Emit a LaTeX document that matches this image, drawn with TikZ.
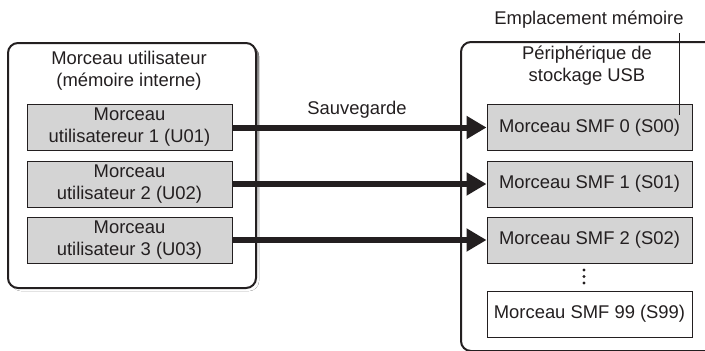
\documentclass[tikz,border=0pt]{standalone}
\usepackage{fontspec}
\setmainfont{Liberation Sans}
\usetikzlibrary{arrows.meta}
\definecolor{ink}{HTML}{231F20}
\definecolor{boxfill}{HTML}{D4D4D4}
\definecolor{shade}{HTML}{B4B4B4}
\begin{document}
\begin{tikzpicture}[x=1pt,y=-1pt,
  txt/.style={font=\fontsize{18.4}{22}\selectfont, text=ink, align=center, inner sep=1pt},
  container/.style={draw=ink, line width=2pt, rounded corners=10pt},
  songbox/.style={txt, draw=ink, line width=1pt, fill=boxfill,
                  minimum width=205pt, minimum height=46pt},
  emptybox/.style={songbox, fill=white},
  saveline/.style={draw=ink, line width=6pt, -{Triangle[length=20pt,width=22pt]}},
  leader/.style={draw=ink, line width=0.9pt}]
\useasboundingbox (0,0) rectangle (705,351);
\clip (0,0) rectangle (705,351);

% internal memory container with its drop shadow
\fill[shade, rounded corners=10pt] (11,46) rectangle (259,291);
\draw[container, fill=white] (8,43) rectangle (256,288);
\node[txt] (inttitle) at (129,71) {Morceau utilisateur\\(mémoire interne)};

% USB storage container, running past the right and bottom edges
\draw[container, fill=white] (461,42) rectangle (720,351);
\node[txt] (usbtitle) at (587,66) {Périphérique de\\stockage USB};

% user songs
\node[songbox] (u1) at (129.5,127.5) {Morceau\\utilisatereur 1 (U01)};
\node[songbox] (u2) at (129.5,184)   {Morceau\\utilisateur 2 (U02)};
\node[songbox] (u3) at (129.5,240)   {Morceau\\utilisateur 3 (U03)};

% SMF slots on the USB device
\node[songbox]  (s0)  at (589.5,127.5) {Morceau SMF 0 (S00)};
\node[songbox]  (s1)  at (589.5,184)   {Morceau SMF 1 (S01)};
\node[songbox]  (s2)  at (589.5,240)   {Morceau SMF 2 (S02)};
\node[emptybox] (s99) at (589.5,314)   {Morceau SMF 99 (S99)};

% vertical ellipsis between S02 and S99
\foreach \yy in {270,276.5,283}
  \fill[ink] (584,\yy) circle (1.6pt);

% save arrows
\node[txt] (save) at (357,110) {Sauvegarde};
\draw[saveline] (u1.east) -- (s0.west);
\draw[saveline] (u2.east) -- (s1.west);
\draw[saveline] (u3.east) -- (s2.west);

% memory location callout
\node[txt] (mem) at (589,20) {Emplacement mémoire};
\coordinate (lead) at (679,115);
\draw[leader] (lead |- 0,33) -- (lead);
\end{tikzpicture}
\end{document}
